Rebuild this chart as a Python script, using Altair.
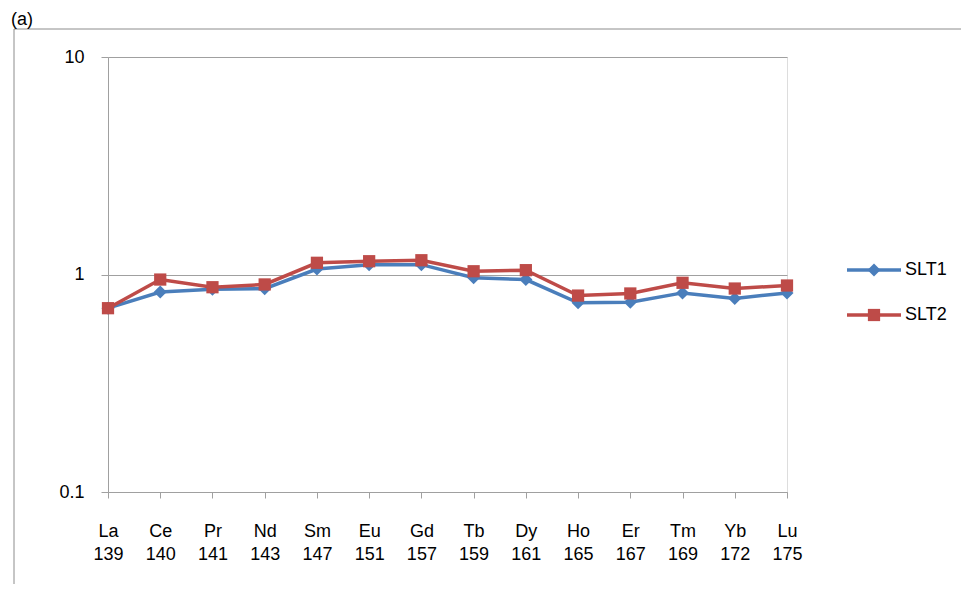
import altair as alt
import pandas as pd

elements = ["La", "Ce", "Pr", "Nd", "Sm", "Eu", "Gd", "Tb", "Dy", "Ho", "Er", "Tm", "Yb", "Lu"]
masses = ["139", "140", "141", "143", "147", "151", "157", "159", "161", "165", "167", "169", "172", "175"]
series_names = ["SLT1", "SLT2"]
slt1 = [0.70, 0.83, 0.855, 0.86, 1.06, 1.11, 1.11, 0.966, 0.948, 0.741, 0.746, 0.823, 0.776, 0.823]
slt2 = [0.70, 0.948, 0.874, 0.90, 1.132, 1.151, 1.163, 1.035, 1.047, 0.80, 0.818, 0.916, 0.862, 0.89]
colors = ["#4A7EBB", "#BE4B48"]
shapes = ["diamond", "square"]
y_ticks = [0.1, 1, 10]

labels = [f"{e} {m}" for e, m in zip(elements, masses)]
rows = []
for s, vals in zip(series_names, [slt1, slt2]):
    for lab, v in zip(labels, vals):
        rows.append({"cat": lab, "value": v, "series": s})
df = pd.DataFrame(rows)

FONT = "Liberation Sans"
W, H = 679, 435

color_scale = alt.Scale(domain=series_names, range=colors)
shape_scale = alt.Scale(domain=series_names, range=shapes)
size_scale = alt.Scale(domain=series_names, range=[170, 150])

x_enc = alt.X("cat:N", sort=labels, scale=alt.Scale(padding=0),
              axis=alt.Axis(title=None, labelAngle=0, labelExpr="split(datum.label, ' ')",
                            labelLineHeight=23, labelFontSize=18, labelFont=FONT, labelColor="black",
                            labelPadding=24, tickSize=6, tickColor="#a0a0a0", domainColor="#a0a0a0",
                            grid=False))
y_enc = alt.Y("value:Q", scale=alt.Scale(type="log", domain=[0.1, 10]),
              axis=alt.Axis(title=None, values=y_ticks, format="~g", labelFontSize=18, labelFont=FONT,
                            labelColor="black", labelPadding=17, tickSize=7, tickColor="#a0a0a0",
                            domainColor="#a0a0a0", gridColor="#a0a0a0", grid=True))

base = alt.Chart(df)
lines = base.mark_line(strokeWidth=3.5).encode(
    x=x_enc, y=y_enc,
    color=alt.Color("series:N", scale=color_scale, legend=None),
    detail="series:N",
)
points = base.mark_point(filled=True, opacity=1).encode(
    x=alt.X("cat:N", sort=labels),
    y=alt.Y("value:Q"),
    color=alt.Color("series:N", scale=color_scale, legend=None),
    shape=alt.Shape("series:N", scale=shape_scale, legend=None),
    size=alt.Size("series:N", scale=size_scale, legend=None),
)

frame = alt.Chart(pd.DataFrame({"a": [0]})).mark_rect(fillOpacity=0, stroke="#8c8c8c", strokeWidth=1).encode(
    x=alt.value(-94), x2=alt.value(1200), y=alt.value(-28), y2=alt.value(900)
)
panel = alt.Chart(pd.DataFrame({"t": ["(a)"]})).mark_text(
    align="left", baseline="alphabetic", font=FONT, color="black", fontSize=18
).encode(text="t:N", x=alt.value(-97), y=alt.value(-32))

leg_df = pd.DataFrame({"series": series_names})
leg_y = alt.Y("series:N", scale=alt.Scale(type="point", domain=series_names, range=[213, 258], padding=0), axis=None)
leg_line = alt.Chart(leg_df).mark_rule(strokeWidth=3.5).encode(
    x=alt.value(739), x2=alt.value(793), y=leg_y,
    color=alt.Color("series:N", scale=color_scale, legend=None),
)
leg_pt = alt.Chart(leg_df).mark_point(filled=True, opacity=1).encode(
    x=alt.value(766), y=leg_y,
    color=alt.Color("series:N", scale=color_scale, legend=None),
    shape=alt.Shape("series:N", scale=shape_scale, legend=None),
    size=alt.Size("series:N", scale=size_scale, legend=None),
)
leg_txt = alt.Chart(leg_df).mark_text(align="left", baseline="middle", fontSize=18, font=FONT, color="black").encode(
    x=alt.value(797), y=leg_y, text="series:N"
)
legend = alt.layer(leg_line, leg_pt, leg_txt)

main = alt.layer(frame, panel, lines, points)
chart = alt.layer(main, legend).resolve_scale(y="independent").properties(
    width=W, height=H,
    padding={"left": 100, "top": 49, "right": 174, "bottom": 92},
    autosize=alt.AutoSizeParams(type="none"),
).configure_view(stroke=None).configure(background="white")

chart.save("out.html", embed_options={"renderer": "svg", "actions": False})
